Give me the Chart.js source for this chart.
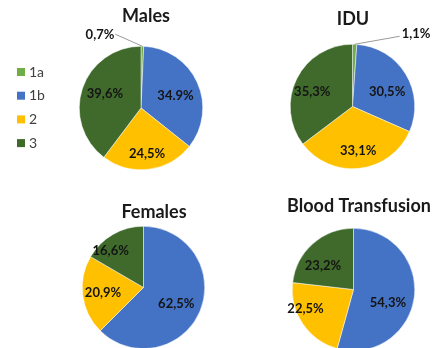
<!DOCTYPE html>
<html>
<head>
<meta charset="utf-8">
<script src="https://cdn.jsdelivr.net/npm/chart.js@4"></script>
<style>
  body { margin: 0; width: 436px; height: 348px; background: #fff; overflow: hidden; position: relative; }
  canvas { position: absolute; }
</style>
</head>
<body>
<canvas id="males" width="218" height="174" style="left:0;top:0"></canvas>
<canvas id="idu" width="218" height="174" style="left:218px;top:0"></canvas>
<canvas id="females" width="218" height="180" style="left:0;top:174px"></canvas>
<canvas id="transfusion" width="218" height="180" style="left:218px;top:174px"></canvas>
<script>
// genotype shares (%) per group
var categories = ['1a', '1b', '2', '3'];
var males = [0.7, 34.9, 24.5, 39.6];
var idu = [1.1, 30.5, 33.1, 35.3];
var females = [0, 62.5, 20.9, 16.6];
var transfusion = [0, 54.3, 22.5, 23.2];

var malesText = ['0,7%', '34.9%', '24,5%', '39,6%'];
var iduText = ['1,1%', '30,5%', '33,1%', '35,3%'];
var femalesText = ['', '62,5%', '20,9%', '16,6%'];
var transfusionText = ['', '54,3%', '22,5%', '23,2%'];

var colors = ['#70AD47', '#4472C4', '#FFC000', '#3F6A2B'];
var FONT = 'Lato, "Open Sans", sans-serif';

// percentage labels: inside the slice, or outside with a leader line for tiny slices
var sliceLabels = {
    id: 'sliceLabels',
    afterDatasetsDraw: function(chart, args, opts) {
        var ctx = chart.ctx;
        var meta = chart.getDatasetMeta(0);
        var data = chart.data.datasets[0].data;
        ctx.save();
        ctx.font = 'bold 13px ' + FONT;
        ctx.fillStyle = '#141414';
        ctx.textBaseline = 'middle';
        meta.data.forEach(function(arc, i) {
            if (!data[i]) return;
            var p = arc.getProps(['x', 'y', 'startAngle', 'endAngle', 'outerRadius'], true);
            var mid = (p.startAngle + p.endAngle) / 2;
            if (data[i] < 3) {
                var ex = p.x + Math.cos(mid) * p.outerRadius;
                var ey = p.y + Math.sin(mid) * p.outerRadius;
                var lx = ex + opts.callout[0];
                var ly = ey + opts.callout[1];
                ctx.strokeStyle = '#7f7f7f';
                ctx.lineWidth = 0.8;
                ctx.beginPath();
                ctx.moveTo(ex, ey);
                ctx.lineTo(lx, ly);
                ctx.stroke();
                var left = opts.callout[0] < 0;
                ctx.textAlign = left ? 'right' : 'left';
                ctx.fillText(opts.texts[i], lx + (left ? -1 : 2), ly + (left ? 1 : -2));
            } else {
                var r = p.outerRadius * 0.65;
                var n = opts.nudge[i] || [0, 0];
                ctx.textAlign = 'center';
                ctx.fillText(opts.texts[i], p.x + Math.cos(mid) * r + n[0], p.y + Math.sin(mid) * r + n[1] + 1);
            }
        });
        ctx.restore();
    }
};

var pieTitle = {
    id: 'pieTitle',
    afterDraw: function(chart, args, opts) {
        var ctx = chart.ctx;
        ctx.save();
        ctx.font = 'bold 18px ' + FONT;
        ctx.fillStyle = '#1a1a1a';
        ctx.textAlign = 'center';
        ctx.textBaseline = 'middle';
        ctx.fillText(opts.text, opts.x, opts.y);
        ctx.restore();
    }
};

// shared legend, drawn once next to the first pie
var sideLegend = {
    id: 'sideLegend',
    afterDraw: function(chart, args, opts) {
        if (!opts.show) return;
        var ctx = chart.ctx;
        ctx.save();
        ctx.font = '14px ' + FONT;
        ctx.textBaseline = 'middle';
        chart.data.labels.forEach(function(lab, i) {
            var y = opts.y + i * opts.step;
            ctx.fillStyle = colors[i];
            ctx.fillRect(opts.x, y - 4, 8, 8);
            ctx.fillStyle = '#404040';
            ctx.fillText(lab, opts.x + 12, y);
        });
        ctx.restore();
    }
};

function makePie(id, values, texts, title, padding, nudge, callout) {
    return new Chart(document.getElementById(id), {
        type: 'pie',
        data: {
            labels: categories,
            datasets: [{
                data: values,
                backgroundColor: colors,
                borderColor: '#ffffff',
                borderWidth: 0.5
            }]
        },
        options: {
            responsive: false,
            animation: false,
            layout: { padding: padding },
            plugins: {
                legend: { display: false },
                tooltip: { enabled: false },
                sliceLabels: { texts: texts, nudge: nudge, callout: callout || [0, 0] },
                pieTitle: title,
                sideLegend: { show: id === 'males', x: 17, y: 72, step: 23.7 }
            }
        },
        plugins: [sliceLabels, pieTitle, sideLegend]
    });
}

makePie('males', males, malesText, { text: 'Males', x: 146, y: 16 },
    { left: 79, right: 15, top: 46, bottom: 4 },
    [null, [-2, 3], [1, 5], [2, -2]], [-27, -12]);
makePie('idu', idu, iduText, { text: 'IDU', x: 135, y: 19 },
    { left: 72, right: 21, top: 44, bottom: 5 },
    [null, [0, 5], [1, 3], [-4, 2]], [45, -8]);
makePie('females', females, femalesText, { text: 'Females', x: 154, y: 38 },
    { left: 82, right: 13, top: 52, bottom: 5 },
    [null, [-4, 0], [-1, -1], [-13, -3]]);
makePie('transfusion', transfusion, transfusionText, { text: 'Blood Transfusion', x: 141, y: 32 },
    { left: 74, right: 21, top: 54, bottom: 3 },
    [null, [-5, 7], [-15, -4], [-4, 5]]);
</script>
</body>
</html>
